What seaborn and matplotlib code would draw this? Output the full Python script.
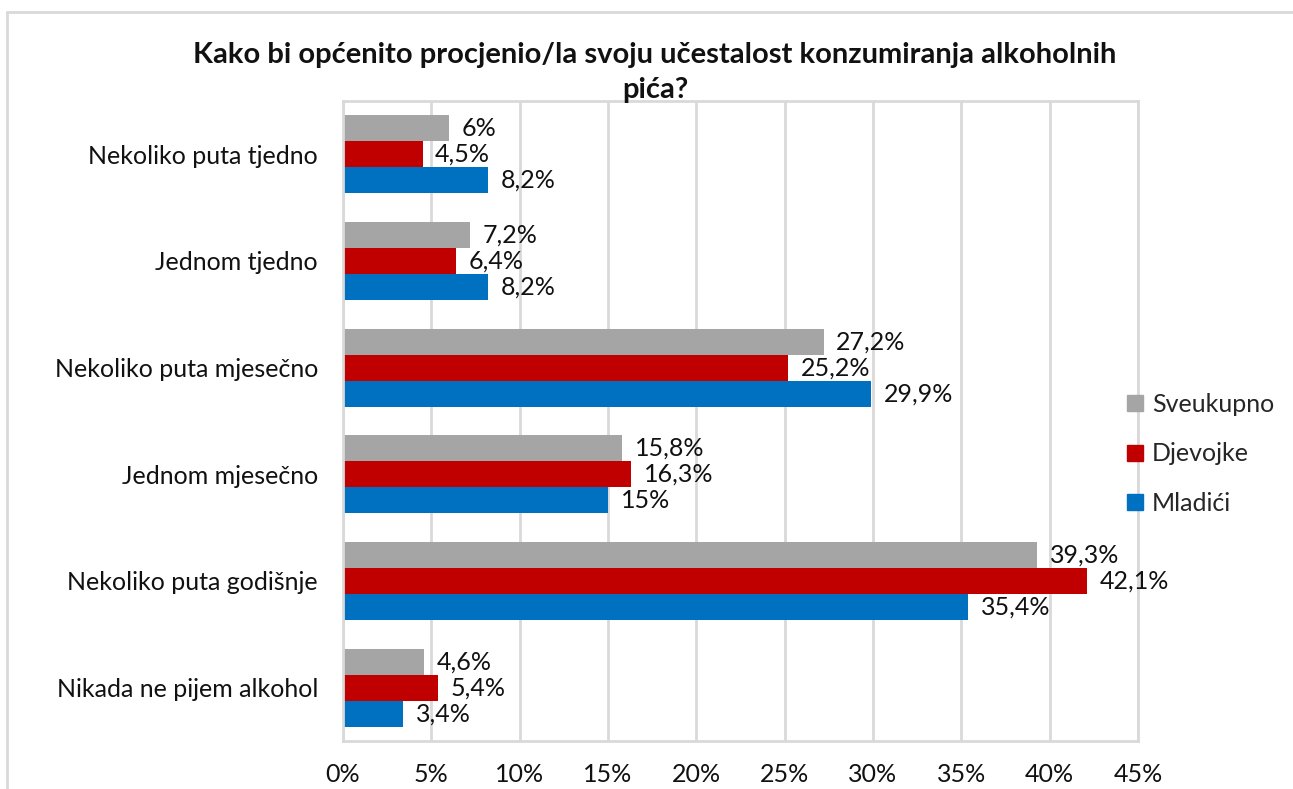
import matplotlib
matplotlib.use('Agg')
import matplotlib.pyplot as plt
import seaborn as sns
import pandas as pd
from matplotlib.lines import Line2D

categories = ['Nekoliko puta tjedno', 'Jednom tjedno', 'Nekoliko puta mjesečno',
              'Jednom mjesečno', 'Nekoliko puta godišnje', 'Nikada ne pijem alkohol']
series = ['Sveukupno', 'Djevojke', 'Mladići']
sveukupno = [6.0, 7.2, 27.2, 15.8, 39.3, 4.6]
djevojke = [4.5, 6.4, 25.2, 16.3, 42.1, 5.4]
mladici = [8.2, 8.2, 29.9, 15.0, 35.4, 3.4]
labels_sve = ['6%', '7,2%', '27,2%', '15,8%', '39,3%', '4,6%']
labels_dje = ['4,5%', '6,4%', '25,2%', '16,3%', '42,1%', '5,4%']
labels_mla = ['8,2%', '8,2%', '29,9%', '15%', '35,4%', '3,4%']
colors = ['#A5A5A5', '#C00000', '#0070C0']

sns.set_theme(style='white')
plt.rcParams['font.family'] = ['Lato', 'DejaVu Sans']

rows = []
for s, vals in zip(series, [sveukupno, djevojke, mladici]):
    for c, v in zip(categories, vals):
        rows.append({'cat': c, 'serija': s, 'val': v})
df = pd.DataFrame(rows)

fs = 18
fig = plt.figure(figsize=(12.93, 7.89), dpi=100)
ax = fig.add_axes([343 / 1293, 1 - 741 / 789, (1138 - 343) / 1293, 640 / 789])

sns.barplot(df, y='cat', x='val', hue='serija', order=categories, hue_order=series,
            palette=colors, orient='h', width=0.73, saturation=1, linewidth=0,
            ax=ax, legend=False)

for cont, labs in zip(ax.containers, [labels_sve, labels_dje, labels_mla]):
    ax.bar_label(cont, labels=labs, padding=9, fontsize=fs, color='#111111')

ax.set_xlim(0, 45)
ax.set_xticks(range(0, 50, 5))
ax.set_xticklabels([f'{t}%' for t in range(0, 50, 5)], fontsize=fs)
ax.tick_params(axis='x', pad=16, length=0, colors='#111111')
ax.tick_params(axis='y', pad=18, length=0, labelsize=fs, colors='#111111')
ax.set_xlabel('')
ax.set_ylabel('')
ax.grid(axis='x', color='#D9D9D9', linewidth=2)
ax.set_axisbelow(True)
for sp in ax.spines.values():
    sp.set_color('#D9D9D9')
    sp.set_linewidth(2)

handles = [Line2D([], [], marker='s', linestyle='', markersize=11, color=c) for c in colors]
fig.legend(handles, series, loc='center left', bbox_to_anchor=(1111 / 1293, 1 - 454 / 789),
           frameon=False, fontsize=fs, handlelength=0.9, handletextpad=0.25,
           labelspacing=1.05, borderpad=0)

fig.text(655 / 1293, 1 - 55 / 789,
         'Kako bi općenito procjenio/la svoju učestalost konzumiranja alkoholnih',
         ha='center', va='center', fontsize=21, fontweight='bold', color='#111111')
fig.text(655 / 1293, 1 - 90 / 789, 'pića?', ha='center', va='center',
         fontsize=21, fontweight='bold', color='#111111')

# outer chart frame (only top and left edges visible)
fig.add_artist(Line2D([7 / 1293, 1], [1 - 12 / 789] * 2, color='#D9D9D9', lw=2))
fig.add_artist(Line2D([7 / 1293] * 2, [0, 1 - 12 / 789], color='#D9D9D9', lw=2))

fig.savefig('out.png', dpi=100)
